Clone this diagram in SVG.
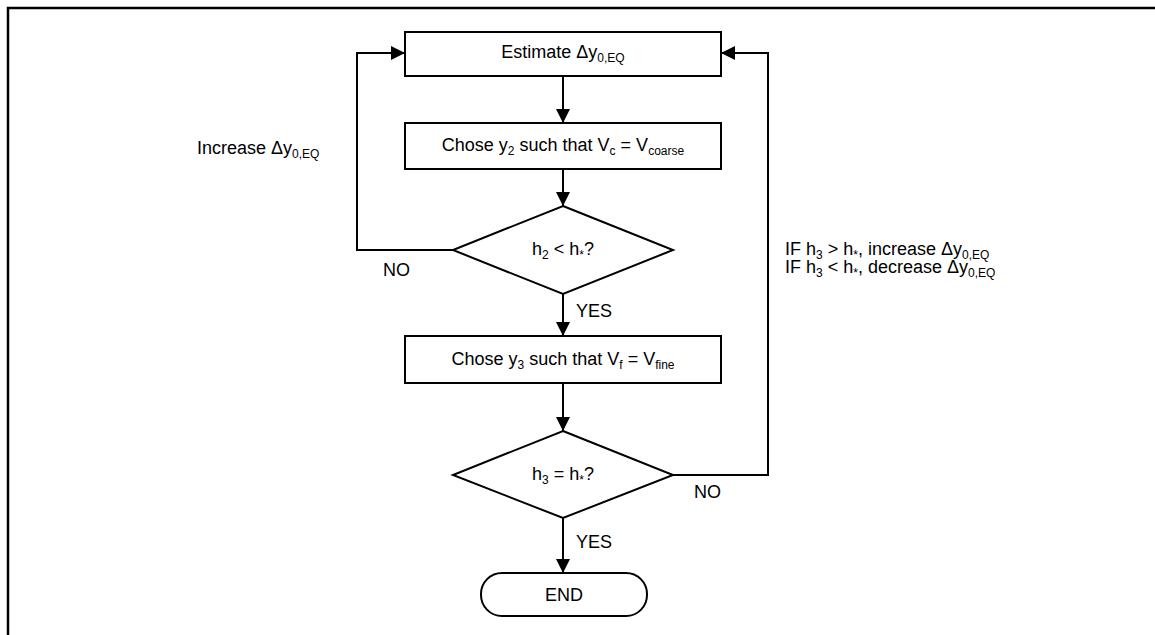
<svg xmlns="http://www.w3.org/2000/svg" width="1155" height="635" viewBox="0 0 1155 635">
<style>
  .n { fill: #fff; stroke: #000; stroke-width: 2; }
  .c { fill: none; stroke: #000; stroke-width: 2; }
  text { font-family: "Liberation Sans", Arial, sans-serif; font-size: 18px; fill: #000; }
  .m { text-anchor: middle; }
  .s { font-size: 12px; }
</style>
<defs>
  <marker id="ah" viewBox="0 0 14 14" refX="14" refY="7" markerWidth="14" markerHeight="14" markerUnits="userSpaceOnUse" orient="auto">
    <path d="M0,0 L14,7 L0,14 Z" fill="#000"/>
  </marker>
</defs>
<rect width="1155" height="635" fill="#fff"/>
<path d="M8,635 L8,8 L1155,8" fill="none" stroke="#000" stroke-width="2.5"/>

<g id="connectors">
  <path class="c" d="M563,76 L563,123" marker-end="url(#ah)"/>
  <path class="c" d="M563,169 L563,206" marker-end="url(#ah)"/>
  <path class="c" d="M563,294 L563,336" marker-end="url(#ah)"/>
  <path class="c" d="M563,383 L563,431" marker-end="url(#ah)"/>
  <path class="c" d="M563,518 L563,573" marker-end="url(#ah)"/>
  <path class="c" d="M453,250 L357,250 L357,53 L405,53" marker-end="url(#ah)"/>
  <path class="c" d="M673,475 L768,475 L768,53 L721,53" marker-end="url(#ah)"/>
  <text x="383" y="276">NO</text>
  <text x="576" y="317">YES</text>
  <text x="694" y="498">NO</text>
  <text x="576" y="548">YES</text>
  <text x="197" y="154">Increase Δy<tspan class="s" dy="4">0,EQ</tspan></text>
  <text x="785" y="255">IF h<tspan class="s" dy="4">3</tspan><tspan dy="-4"> &gt; h</tspan><tspan class="s" dy="4">*</tspan><tspan dy="-4">, increase Δy</tspan><tspan class="s" dy="4">0,EQ</tspan></text>
  <text x="785" y="273">IF h<tspan class="s" dy="4">3</tspan><tspan dy="-4"> &lt; h</tspan><tspan class="s" dy="4">*</tspan><tspan dy="-4">, decrease Δy</tspan><tspan class="s" dy="4">0,EQ</tspan></text>
</g>

<g id="estimate">
  <rect class="n" x="405" y="32" width="316" height="44"/>
  <text class="m" x="563" y="58">Estimate Δy<tspan class="s" dy="4">0,EQ</tspan></text>
</g>
<g id="chose-y2">
  <rect class="n" x="405" y="123" width="316" height="46"/>
  <text class="m" x="563" y="151">Chose y<tspan class="s" dy="4">2</tspan><tspan dy="-4"> such that V</tspan><tspan class="s" dy="4">c</tspan><tspan dy="-4"> = V</tspan><tspan class="s" dy="4">coarse</tspan></text>
</g>
<g id="decision-h2">
  <polygon class="n" points="563,206 673,250 563,294 453,250"/>
  <text class="m" x="563" y="255">h<tspan class="s" dy="4">2</tspan><tspan dy="-4"> &lt; h</tspan><tspan class="s" dy="4">*</tspan><tspan dy="-4">?</tspan></text>
</g>
<g id="chose-y3">
  <rect class="n" x="405" y="336" width="316" height="47"/>
  <text class="m" x="563" y="365">Chose y<tspan class="s" dy="4">3</tspan><tspan dy="-4"> such that V</tspan><tspan class="s" dy="4">f</tspan><tspan dy="-4"> = V</tspan><tspan class="s" dy="4">fine</tspan></text>
</g>
<g id="decision-h3">
  <polygon class="n" points="563,431 673,475 563,518 453,475"/>
  <text class="m" x="563" y="480">h<tspan class="s" dy="4">3</tspan><tspan dy="-4"> = h</tspan><tspan class="s" dy="4">*</tspan><tspan dy="-4">?</tspan></text>
</g>
<g id="end">
  <rect class="n" x="481" y="573" width="166" height="43" rx="21" ry="21"/>
  <text class="m" x="564" y="601">END</text>
</g>
</svg>
